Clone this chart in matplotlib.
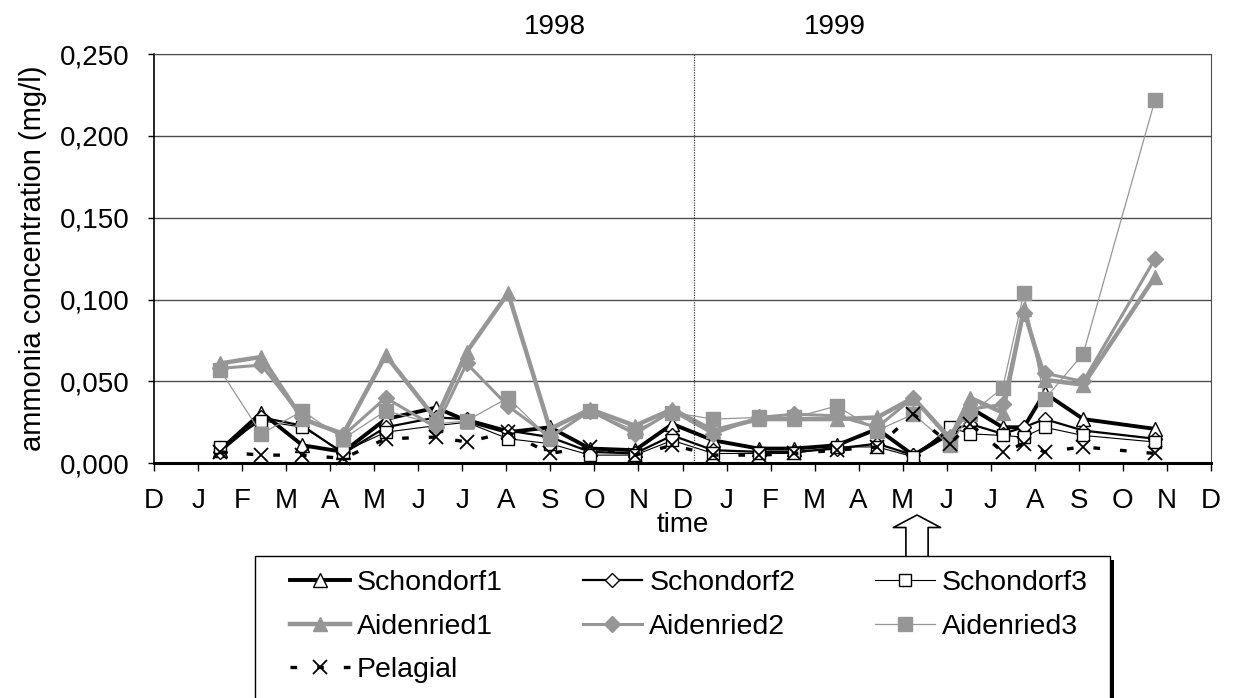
import numpy as np
import matplotlib.pyplot as plt
from matplotlib.patches import Rectangle
from matplotlib.lines import Line2D

plt.rcParams['font.family'] = ['Liberation Sans', 'DejaVu Sans']

# month ticks from Dec 1997 to Dec 1999
month_labels = ["D", "J", "F", "M", "A", "M", "J", "J", "A", "S", "O", "N",
                "D", "J", "F", "M", "A", "M", "J", "J", "A", "S", "O", "N", "D"]
year_labels = ["1998", "1999"]

# sampling dates, in months after 1 Dec 1997
sample_month = [1.50, 2.44, 3.37, 4.30, 5.26, 6.40, 7.10, 8.04, 8.99, 9.90, 10.92, 11.77,
                12.70, 13.73, 14.54, 15.50, 16.42, 17.24, 18.07, 18.53, 19.27, 19.75,
                20.22, 21.10, 22.73]

# ammonia concentration (mg/l)
schondorf1 = [0.008, 0.031, 0.011, 0.007, 0.027, 0.034, 0.026, 0.019, 0.022, 0.009, 0.008, 0.024,
              0.014, 0.009, 0.009, 0.011, 0.021, 0.005, 0.018, 0.034, 0.022, 0.022, 0.043, 0.027,
              0.021]
schondorf2 = [0.007, 0.028, 0.023, 0.006, 0.022, 0.028, 0.027, 0.020, 0.016, 0.007, 0.006, 0.017,
              0.008, 0.007, 0.007, 0.009, 0.012, 0.005, 0.020, 0.024, 0.018, 0.022, 0.027, 0.020,
              0.015]
schondorf3 = [0.010, 0.026, 0.022, 0.007, 0.019, 0.023, 0.025, 0.015, 0.012, 0.005, 0.005, 0.014,
              0.006, 0.006, 0.006, 0.010, 0.010, 0.004, 0.022, 0.018, 0.017, 0.016, 0.022, 0.017,
              0.013]
aidenried1 = [0.061, 0.065, 0.027, 0.018, 0.066, 0.027, 0.068, 0.104, 0.021, 0.033, 0.023, 0.033,
              0.020, 0.027, 0.027, 0.027, 0.028, 0.040, 0.015, 0.040, 0.031, 0.094, 0.051, 0.048,
              0.114]
aidenried2 = [0.058, 0.060, 0.028, 0.017, 0.040, 0.022, 0.061, 0.035, 0.016, 0.032, 0.018, 0.032,
              0.018, 0.028, 0.030, 0.029, 0.022, 0.040, 0.016, 0.033, 0.036, 0.092, 0.055, 0.050,
              0.125]
aidenried3 = [0.057, 0.018, 0.032, 0.015, 0.032, 0.024, 0.026, 0.040, 0.015, 0.032, 0.020, 0.031,
              0.027, 0.028, 0.028, 0.035, 0.020, 0.030, 0.011, 0.030, 0.046, 0.104, 0.039, 0.067,
              0.222]
pelagial = [0.007, 0.005, 0.005, 0.003, 0.015, 0.016, 0.013, 0.019, 0.006, 0.010, 0.005, 0.011,
            0.005, 0.005, 0.006, 0.008, 0.010, 0.030, 0.012, 0.024, 0.007, 0.012, 0.007, 0.010,
            0.006]

GREY = "#969696"
STYLES = {
    "Schondorf1": dict(color="black", lw=2.8, marker="^", ms=9.5, mfc="white", mec="black", mew=1.0),
    "Schondorf2": dict(color="black", lw=1.6, marker="D", ms=7.5, mfc="white", mec="black", mew=1.0),
    "Schondorf3": dict(color="black", lw=0.8, marker="s", ms=8.5, mfc="white", mec="black", mew=1.0),
    "Aidenried1": dict(color=GREY, lw=3.2, marker="^", ms=10.5, mfc=GREY, mec=GREY),
    "Aidenried2": dict(color=GREY, lw=2.2, marker="D", ms=8, mfc=GREY, mec=GREY),
    "Aidenried3": dict(color=GREY, lw=0.9, marker="s", ms=10.5, mfc=GREY, mec=GREY),
    "Pelagial": dict(color="black", lw=2.4, dashes=(2.0, 6.0), marker="x", ms=9.5,
                     mec="black", mew=1.3),
}
series = {
    "Schondorf1": schondorf1, "Schondorf2": schondorf2, "Schondorf3": schondorf3,
    "Aidenried1": aidenried1, "Aidenried2": aidenried2, "Aidenried3": aidenried3,
    "Pelagial": pelagial,
}

W, H = 1233, 698
FS = 20
fig = plt.figure(figsize=(W / 100, H / 100), dpi=100)
ax = fig.add_axes([154 / W, 1 - 463.3 / H, (1211 - 154) / W, (463.3 - 54) / H])

for name, vals in series.items():
    ax.plot(sample_month, vals, label=name, clip_on=False, **STYLES[name])

ax.set_xlim(0, len(month_labels) - 1)
ax.set_ylim(0, 0.25)
ax.set_xticks(range(len(month_labels)))
ax.set_xticklabels(month_labels, fontsize=FS)
yt = np.arange(0, 0.2501, 0.05)
ax.set_yticks(yt)
ax.set_yticklabels([f"{v:.3f}".replace(".", ",") for v in yt], fontsize=FS)
ax.tick_params(axis="x", length=6, width=1, pad=11.5, direction="out")
ax.tick_params(axis="y", length=4, width=1, pad=13.5, direction="out")

ax.yaxis.grid(True, color="#4d4d4d", lw=1)
ax.set_axisbelow(True)
for side in ("top", "right"):
    ax.spines[side].set_color("#4d4d4d")
ax.spines["left"].set_linewidth(1.2)
ax.spines["bottom"].set_linewidth(2.2)

# boundary between the two years
ax.axvline(12.25, color="#404040", lw=0.9, ls=(0, (1, 1)))
for label, xf in zip(year_labels, [0.3794, 0.6443]):
    ax.text(xf, 1.066, label, transform=ax.transAxes, ha="center", va="center", fontsize=FS)

ax.set_xlabel("time", fontsize=FS)
ax.xaxis.label.set_va("top")
ax.xaxis.set_label_coords(0.5, -0.118)
ax.set_ylabel("ammonia concentration (mg/l)", fontsize=21)
ax.yaxis.label.set_va("center")
ax.yaxis.set_label_coords(-0.1145, 0.5)

# legend box running off the bottom edge, with a solid drop shadow
box_l, box_t, box_r = 255, 556, 1110
fig.patches.append(Rectangle((box_l + 4, -10), box_r - box_l, H - box_t + 6, transform=None,
                             facecolor="black", edgecolor="none", zorder=1))
fig.patches.append(Rectangle((box_l, -10), box_r - box_l, H - box_t + 10, transform=None,
                             facecolor="white", edgecolor="black", lw=1, zorder=2))

order = ["Schondorf1", "Aidenried1", "Pelagial", "Schondorf2", "Aidenried2",
         "Schondorf3", "Aidenried3"]
handles = [Line2D([], [], label=n, **STYLES[n]) for n in order]
fig.legend(handles=handles, loc="upper left", bbox_to_anchor=(290 / W, 1 - 570 / H),
           ncol=3, frameon=False, fontsize=20.5, handlelength=2.1, handletextpad=0.25,
           columnspacing=2.8, labelspacing=0.62, borderpad=0, borderaxespad=0)

# marker for the sampling change in May 1999
ax.annotate("", xy=(917, H - 515), xycoords="figure pixels",
            xytext=(917, H - 557), textcoords="figure pixels",
            arrowprops=dict(arrowstyle="simple,head_length=9,head_width=34,tail_width=16",
                            mutation_scale=1, fc="white", ec="black", lw=1.2,
                            shrinkA=0, shrinkB=0))

fig.savefig("out.png", dpi=100)
